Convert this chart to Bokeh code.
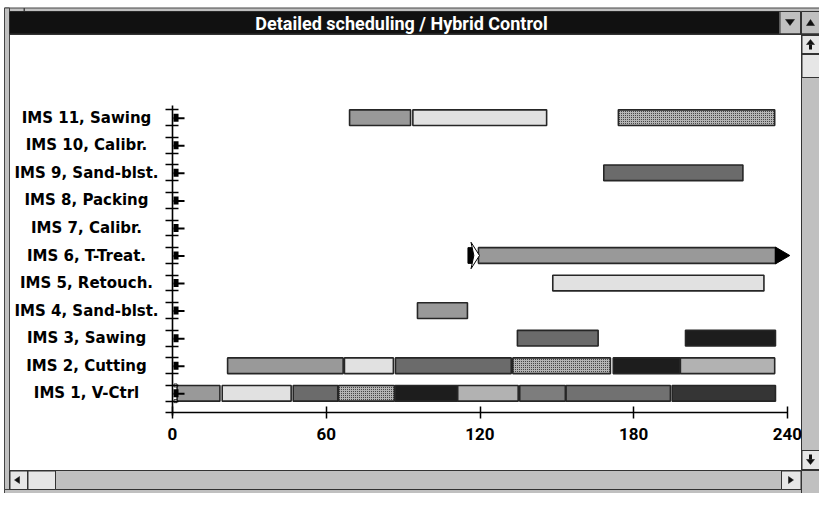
from bokeh.plotting import figure
from bokeh.models import LinearAxis, FixedTicker, Range1d
from bokeh.core.properties import value
from bokeh.embed import file_html
from bokeh.resources import INLINE

# ---------------- data ----------------
machines = ["IMS 1, V-Ctrl", "IMS 2, Cutting", "IMS 3, Sawing", "IMS 4, Sand-blst.",
            "IMS 5, Retouch.", "IMS 6, T-Treat.", "IMS 7, Calibr.", "IMS 8, Packing",
            "IMS 9, Sand-blst.", "IMS 10, Calibr.", "IMS 11, Sawing"]
x_ticks = [0, 60, 120, 180, 240]

bar_row = [1, 1, 1, 1, 1, 1, 1, 1, 1,
           2, 2, 2, 2, 2, 2,
           3, 3,
           4, 5, 9,
           11, 11, 11]
bar_start = [1.8, 19.4, 47.1, 64.8, 86.9, 111.3, 135.5, 153.6, 195.0,
             21.5, 67.1, 87.0, 132.8, 172.0, 198.2,
             134.6, 200.2,
             95.6, 148.4, 168.3,
             69.1, 93.8, 174.0]
bar_end = [18.5, 46.3, 64.5, 86.6, 111.2, 134.9, 153.3, 194.3, 235.3,
           66.6, 86.2, 132.2, 170.9, 198.0, 235.0,
           166.1, 235.3,
           115.1, 230.8, 222.6,
           92.9, 146.0, 235.0]
bar_job = ["A", "B", "C", "D", "E", "F", "G", "H", "I",
           "A", "B", "C", "D", "E", "F",
           "C", "E",
           "A", "B", "C",
           "A", "B", "D"]
job_colors = {"A": "#999999", "B": "#e1e1e1", "C": "#6b6b6b", "D": "#b4b4b4",
              "E": "#1d1d1d", "F": "#b2b2b2", "G": "#7d7d7d", "H": "#717171", "I": "#353535"}
patterned_jobs = ["D"]

# running task (arrow) on IMS 6
run_row = 6
run_start = 115.6
run_end = 235.3
run_job = "A"

# ---------------- geometry (pixel frame of the picture) ----------------
W, H = 819, 493
SX = 2.5625          # px per time unit
SY = 27.56           # px per row
X0 = 172.0           # px of time 0
Y1 = 392.8           # px of row 1
BAR_H = 0.57
X_AXIS_ROW = 1 - (412.3 - Y1) / SY


def px2x(px):
    return (px - X0) / SX


def py2y(py):
    return 1 + (Y1 - py) / SY


PXU = 1 / SX
PYU = 1 / SY

p = figure(width=W, height=H, output_backend="svg", toolbar_location=None,
           x_range=Range1d(px2x(0), px2x(W)), y_range=Range1d(py2y(H), py2y(0)),
           x_axis_type=None, y_axis_type=None, min_border=0,
           background_fill_color="white", border_fill_color="white")
p.outline_line_color = None
p.xgrid.visible = False
p.ygrid.visible = False


# ---------------- window chrome ----------------
def box(x1, y1, x2, y2, fill, line=None, lw=1):
    p.quad(left=px2x(x1), right=px2x(x2), top=py2y(y1), bottom=py2y(y2),
           fill_color=fill, line_color=line, line_width=lw)


def tri(pts):
    p.patch([px2x(a) for a, b in pts], [py2y(b) for a, b in pts],
            fill_color="#111111", line_color="#111111", line_width=0.5)


RX = W      # right edge of window
BY = H      # bottom edge of window

# outer frame
box(4, 7.5, RX, 11, "#c0c0c0", "#444444")
box(4, 7.5, 9, BY, "#c0c0c0", "#444444")
box(4, BY - 4, RX, BY, "#c0c0c0", "#444444")
box(23, 7.5, 24.5, 11, "#444444", None)
# title bar
box(9, 11, RX - 40, 33.5, "#111111", None)
box(RX - 39.5, 11, RX - 19, 33.5, "#c0c0c0", "#333333")
box(RX - 18, 11, RX, 33.5, "#c0c0c0", "#333333")
box(9, 33, RX, 34.5, "#333333", None)
# vertical scrollbar
box(RX - 18, 34.5, RX, BY - 23, "#c0c0c0", "#333333")
box(RX - 17.5, 35, RX, 53, "#e6e6e6", "#333333")
box(RX - 17.5, 54, RX, 77, "#e6e6e6", "#333333")
box(RX - 17.5, BY - 43, RX, BY - 24, "#e6e6e6", "#333333")
# horizontal scrollbar
box(9, BY - 23, RX - 18, BY - 4, "#c0c0c0", "#333333")
box(9.5, BY - 22.5, 27, BY - 4, "#e6e6e6", "#333333")
box(27.5, BY - 22.5, 55, BY - 4, "#e6e6e6", "#333333")
box(RX - 38, BY - 22.5, RX - 18.5, BY - 4, "#e6e6e6", "#333333")
box(RX - 18, BY - 23, RX, BY, "#c0c0c0", "#333333")

tri([(RX - 34, 19), (RX - 25, 19), (RX - 29.5, 25)])
tri([(RX - 13, 25), (RX - 5, 25), (RX - 9, 19)])
tri([(RX - 13, 44), (RX - 5, 44), (RX - 9, 39)])
box(RX - 10.5, 44, RX - 7.5, 49, "#111111", None)
tri([(RX - 13, BY - 34), (RX - 5, BY - 34), (RX - 9, BY - 29)])
box(RX - 10.5, BY - 39, RX - 7.5, BY - 34, "#111111", None)
tri([(14, BY - 13.5), (19, BY - 17), (19, BY - 10)])
tri([(RX - 26, BY - 13.5), (RX - 31, BY - 17), (RX - 31, BY - 10)])

p.text(x=[px2x(401)], y=[py2y(22.5)], text=["Detailed scheduling / Hybrid Control"],
       text_color="white", text_font=value("Roboto"), text_font_style="bold",
       text_font_size="18px", text_align="center", text_baseline="middle")

# ---------------- bars ----------------
rows_n = [r for r, j in zip(bar_row, bar_job) if j not in patterned_jobs]
st_n = [s for s, j in zip(bar_start, bar_job) if j not in patterned_jobs]
en_n = [e for e, j in zip(bar_end, bar_job) if j not in patterned_jobs]
col_n = [job_colors[j] for j in bar_job if j not in patterned_jobs]
p.quad(left=st_n, right=en_n, top=[r + BAR_H / 2 for r in rows_n],
       bottom=[r - BAR_H / 2 for r in rows_n], fill_color=col_n,
       line_color="#262626", line_width=1.6)

rows_p = [r for r, j in zip(bar_row, bar_job) if j in patterned_jobs]
st_p = [s for s, j in zip(bar_start, bar_job) if j in patterned_jobs]
en_p = [e for e, j in zip(bar_end, bar_job) if j in patterned_jobs]
col_p = [job_colors[j] for j in bar_job if j in patterned_jobs]
p.quad(left=st_p, right=en_p, top=[r + BAR_H / 2 for r in rows_p],
       bottom=[r - BAR_H / 2 for r in rows_p], fill_color=col_p,
       hatch_pattern="dot", hatch_color="#222222", hatch_scale=2.0, hatch_weight=1.2,
       line_color="#262626", line_width=1.6)

# running task with arrow decorations
p.quad(left=[run_start + 3.8], right=[run_end], top=[run_row + BAR_H / 2],
       bottom=[run_row - BAR_H / 2], fill_color=job_colors[run_job],
       line_color="#262626", line_width=1.6)
p.quad(left=[run_start - 0.3], right=[run_start + 2.0], top=[run_row + BAR_H / 2],
       bottom=[run_row - BAR_H / 2], fill_color="black", line_color="black")
p.patch([run_start + 0.9, run_start + 4.2, run_start + 0.9, run_start + 2.0],
        [run_row + 0.48, run_row, run_row - 0.48, run_row],
        fill_color="white", line_color="black", line_width=1)
p.patch([run_end, run_end + 5.6, run_end],
        [run_row + BAR_H / 2 + 0.02, run_row, run_row - BAR_H / 2 - 0.02],
        fill_color="black", line_color="black", line_width=1)

# current-time markers on the machine axis
rows_all = list(range(1, len(machines) + 1))
p.quad(left=[0.4] * len(rows_all), right=[0.4 + 5 * PXU] * len(rows_all),
       top=[r + 4 * PYU for r in rows_all], bottom=[r - 4 * PYU for r in rows_all],
       fill_color="black", line_color=None)
p.segment(x0=[0.4] * len(rows_all), x1=[0.4 + 11 * PXU] * len(rows_all),
          y0=[r - 0.5 * PYU for r in rows_all], y1=[r - 0.5 * PYU for r in rows_all],
          line_color="black", line_width=2)
p.quad(left=[0.6, 0.6], right=[0.6 + 3 * PXU, 0.6 + 3 * PXU],
       top=[1 + BAR_H / 2 + 1.5 * PYU, 1 - BAR_H / 2 + 1.5 * PYU],
       bottom=[1 + BAR_H / 2 - 1.5 * PYU, 1 - BAR_H / 2 - 1.5 * PYU],
       fill_color="white", line_color="black", line_width=0.8)

# machine names
p.text(x=[px2x(86)] * len(machines), y=rows_all, text=machines,
       text_font=value("DejaVu Sans"), text_font_style="bold", text_font_size="15px",
       text_align="center", text_baseline="middle", text_color="black")

# ---------------- axes ----------------
xaxis = LinearAxis(fixed_location=X_AXIS_ROW, ticker=FixedTicker(ticks=x_ticks),
                   bounds=(-2.7, 240), axis_line_width=1.6, axis_line_color="black",
                   major_tick_in=6, major_tick_out=6, major_tick_line_width=1.5,
                   major_tick_line_color="black", minor_tick_line_color=None,
                   major_label_standoff=9,
                   major_label_text_font="Roboto",
                   major_label_text_font_style="bold", major_label_text_font_size="17px",
                   major_label_text_color="black")
p.add_layout(xaxis, "below")

y_ticks = []
for r in rows_all:
    y_ticks += [r - BAR_H / 2, r + BAR_H / 2]
yaxis = LinearAxis(fixed_location=0, ticker=FixedTicker(ticks=y_ticks),
                   bounds=(py2y(415), py2y(105)), axis_line_width=1.6, axis_line_color="black",
                   major_tick_in=6, major_tick_out=7, major_tick_line_width=1.5,
                   major_tick_line_color="black", minor_tick_line_color=None,
                   major_label_overrides={t: "" for t in y_ticks})
p.add_layout(yaxis, "left")

open("out.html", "w").write(file_html(p, INLINE))
